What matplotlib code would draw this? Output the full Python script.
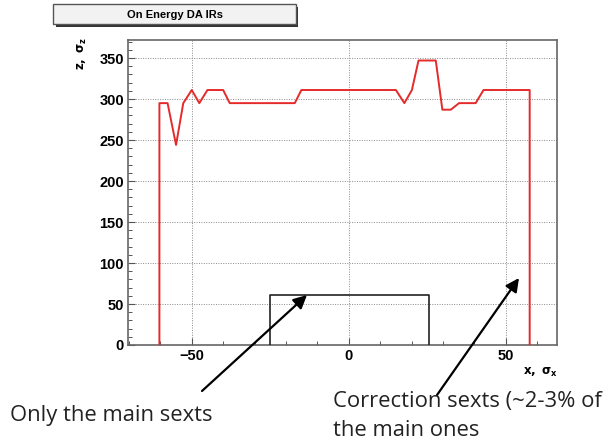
import matplotlib
matplotlib.use("Agg")
import matplotlib.pyplot as plt
from matplotlib.patches import Rectangle, FancyArrowPatch
from matplotlib.ticker import MultipleLocator

# Dynamic aperture boundary (red) : x in sigma_x, z in sigma_z
da_x = [-60.3, -60.3, -57.7, -55.0, -52.7, -50.0, -47.6, -45.0, -40.0, -37.9,
        -17.2, -15.1, 15.0, 17.7, 20.1, 22.2, 27.7, 29.8, 32.5, 35.1,
        40.4, 42.9, 57.6, 57.6]
da_z = [0, 295, 295, 244, 295, 311, 295, 311, 311, 295,
        295, 311, 311, 295, 311, 347, 347, 287, 287, 295,
        295, 311, 311, 0]

# Black box (main sextupoles only)
box_x = [-25, -25, 25.4, 25.4]
box_z = [0, 61, 61, 0]

x_ticks = [-50, 0, 50]
y_ticks = [0, 50, 100, 150, 200, 250, 300, 350]

W, H = 612, 445
fig = plt.figure(figsize=(W / 100, H / 100), dpi=100)
fig.patch.set_facecolor("white")
plt.rcParams["mathtext.fontset"] = "dejavusans"

def fx(px):
    return px / W

def fy(py):
    return 1 - py / H

ax = fig.add_axes([fx(128), fy(345), fx(557) - fx(128), fy(40) - fy(345)])
ax.plot(da_x, da_z, color="#e52a2a", lw=1.4, zorder=3)
ax.plot(box_x, box_z, color="#222222", lw=1.2, zorder=3)

ax.set_xlim(-70.3, 66.3)
ax.set_ylim(0, 372)
ax.set_xticks(x_ticks)
ax.set_yticks(y_ticks)
ax.xaxis.set_minor_locator(MultipleLocator(10))
ax.yaxis.set_minor_locator(MultipleLocator(10))
ax.tick_params(which="both", direction="in", top=False, right=False,
               color="#555555")
ax.tick_params(which="major", length=5, width=0.8, pad=3)
ax.tick_params(which="minor", length=3, width=0.7)
for lab in ax.get_xticklabels() + ax.get_yticklabels():
    lab.set_fontfamily("Liberation Sans")
    lab.set_fontweight("bold")
    lab.set_fontsize(10.5)
ax.grid(True, which="major", linestyle=(0, (1, 1.5)), color="#8a8a8a",
        linewidth=0.7)
for sp in ax.spines.values():
    sp.set_color("#666666")
    sp.set_linewidth(1.2)

# axis labels
fig.text(fx(540), fy(372), r"$\mathbf{x,\ \sigma_x}$", ha="center", va="center",
         fontsize=8.5)
fig.text(fx(82), fy(53), r"$\mathbf{z,\ \sigma_z}$", ha="center", va="center",
         rotation=90, fontsize=8.5)

# title box with shadow
fig.patches.append(Rectangle((fx(56), fy(26.5)), fx(298) - fx(56), fy(4) - fy(24),
                             transform=fig.transFigure, facecolor="#333333",
                             edgecolor="none", zorder=1))
fig.patches.append(Rectangle((fx(53), fy(24)), fx(296) - fx(53), fy(4) - fy(24),
                             transform=fig.transFigure, facecolor="#f2f2f2",
                             edgecolor="#555555", linewidth=1.0, zorder=2))
fig.text(fx(175), fy(14.5), "On Energy DA IRs", ha="center", va="center",
         fontsize=8, fontweight="bold", family="Liberation Sans", zorder=3)

# annotations
fs = 15.8
fig.text(fx(10), fy(416), "Only the main sexts", ha="left", va="center",
         fontsize=fs, family="Open Sans", color="#222222")
fig.text(fx(333), fy(402), "Correction sexts (~2-3% of", ha="left",
         va="center", fontsize=fs, family="Open Sans", color="#222222")
fig.text(fx(333), fy(431), "the main ones", ha="left", va="center",
         fontsize=fs, family="Open Sans", color="#222222")

arrow = dict(arrowstyle="-|>,head_length=0.8,head_width=0.4", color="black",
             lw=1.6, shrinkA=0, shrinkB=0, mutation_scale=10)
fig.add_artist(FancyArrowPatch(
    (fx(202), fy(391)), (fx(307), fy(295)), transform=fig.transFigure,
    **arrow))
fig.add_artist(FancyArrowPatch(
    (fx(437), fy(395)), (fx(519), fy(278)), transform=fig.transFigure,
    **arrow))

fig.savefig("out.png", dpi=100)
